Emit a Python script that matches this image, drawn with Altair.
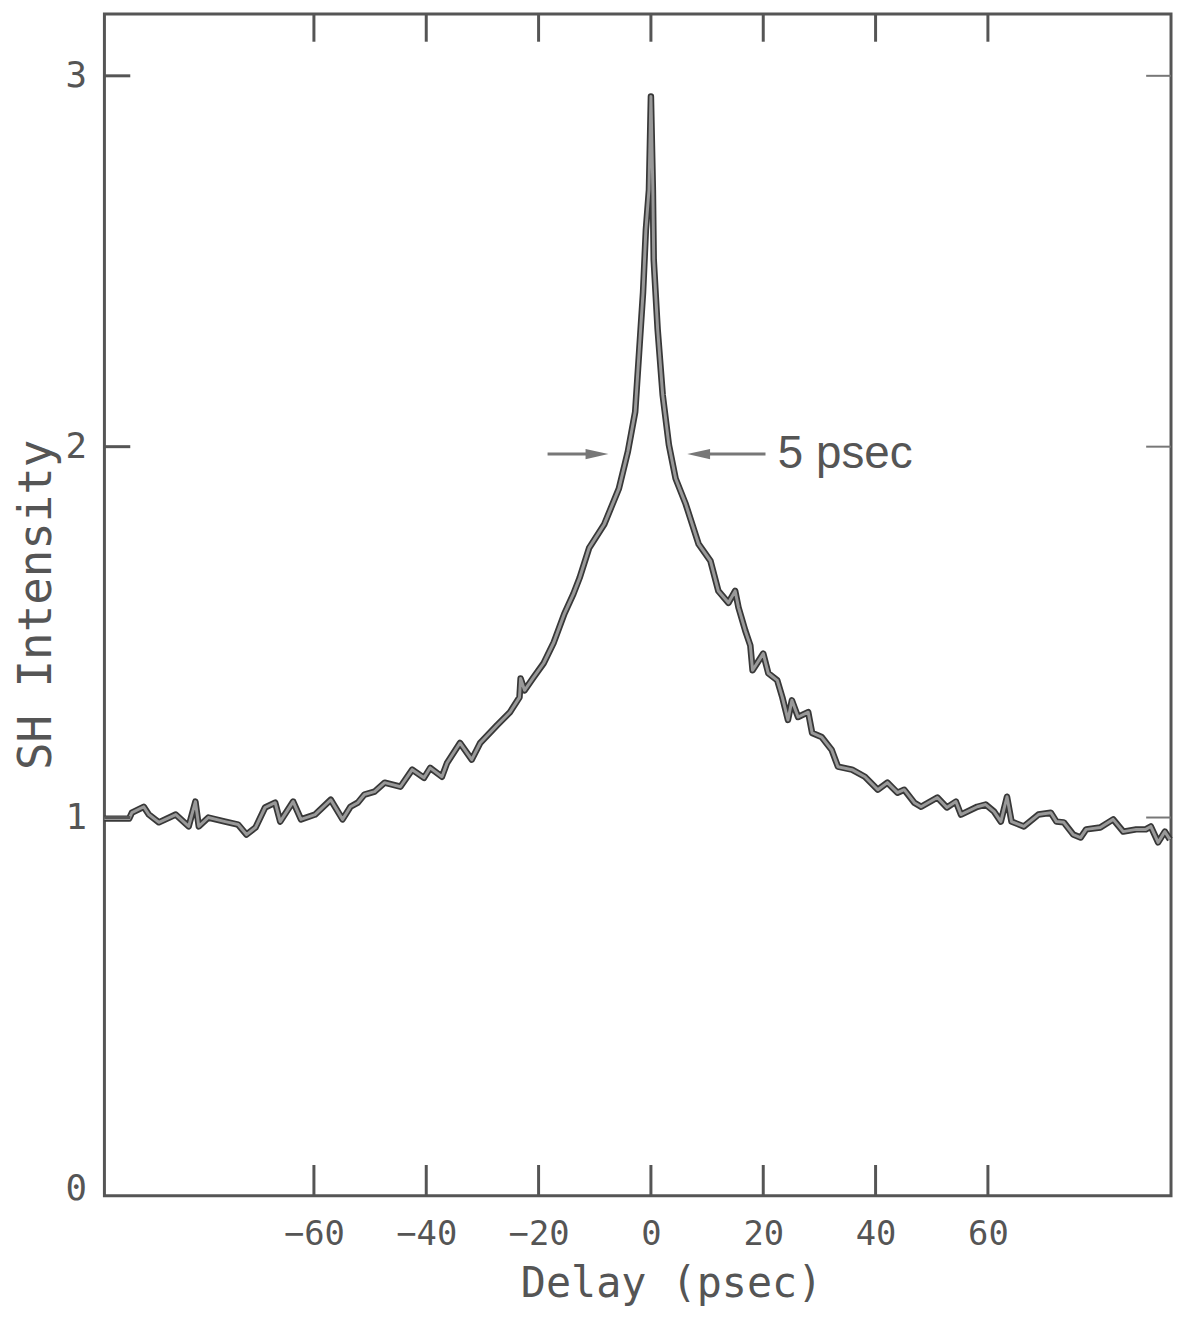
import altair as alt
import pandas as pd

# ---- data ----
delay = [-97.3, -92.9, -92.4, -90.3, -89.4, -87.6, -84.6, -82.3, -81.1, -80.5, -78.8, -75.8,
         -73.5, -72.0, -70.4, -68.7, -66.9, -66.0, -63.7, -62.3, -59.8, -57.0, -54.9, -53.5,
         -52.2, -51.0, -49.2, -47.4, -44.6, -42.5, -40.4, -39.3, -37.2, -36.3, -34.0, -31.9,
         -30.4, -27.4, -25.1, -23.4, -23.2, -22.5, -20.9, -19.1, -17.3, -15.4, -13.8, -12.7,
         -11.0, -8.3, -5.7, -4.1, -2.8, -2.1, -1.4, -0.9, -0.35, 0.0,
         0.35, 0.5, 1.2, 2.1, 3.2, 4.4, 6.2, 8.5, 10.6, 12.0, 13.8, 15.0, 15.6, 16.8, 17.7,
         18.1, 20.0, 20.9, 22.5, 23.4, 24.4, 25.1, 26.2, 28.0, 28.7, 30.4, 32.2, 33.3, 35.8,
         38.1, 40.4, 42.1, 43.9, 45.1, 46.9, 48.1, 51.0, 52.7, 54.3, 55.2, 58.1, 59.6, 61.1,
         62.3, 63.4, 64.2, 66.4, 69.0, 71.2, 72.2, 73.5, 75.2, 76.5, 77.5, 80.0, 82.3, 84.1,
         86.4, 88.1, 89.0, 90.3, 91.5, 92.4]
intensity = [0.997, 0.997, 1.013, 1.029, 1.008, 0.987, 1.008, 0.976, 1.043, 0.976, 1.000, 0.989,
             0.981, 0.954, 0.973, 1.027, 1.040, 0.989, 1.043, 0.995, 1.008, 1.048, 0.995, 1.029,
             1.040, 1.062, 1.070, 1.094, 1.083, 1.129, 1.107, 1.134, 1.110, 1.147, 1.201, 1.156,
             1.201, 1.249, 1.284, 1.324, 1.375, 1.343, 1.378, 1.416, 1.472, 1.550, 1.603, 1.646,
             1.727, 1.791, 1.887, 1.987, 2.094, 2.255, 2.416, 2.584, 2.692, 2.944,
             2.692, 2.504, 2.316, 2.139, 2.005, 1.914, 1.845, 1.737, 1.692, 1.611, 1.579, 1.611,
             1.566, 1.504, 1.464, 1.397, 1.442, 1.389, 1.370, 1.324, 1.263, 1.316, 1.271, 1.284,
             1.228, 1.217, 1.182, 1.137, 1.129, 1.110, 1.075, 1.094, 1.067, 1.075, 1.040, 1.029,
             1.054, 1.027, 1.043, 1.008, 1.029, 1.035, 1.016, 0.989, 1.056, 0.989, 0.976, 1.008,
             1.013, 0.989, 0.987, 0.954, 0.946, 0.968, 0.973, 0.995, 0.962, 0.968, 0.968, 0.976,
             0.933, 0.962, 0.941]

x_tick_values = [-60, -40, -20, 0, 20, 40, 60]
y_label_values = [0, 1, 2, 3]
y_tick_values = [1, 2, 3]

arrow_tail = [-18.4, 20.4]
arrow_head_center = [-9.6, 8.5]
arrow_y = [1.98, 1.98]
arrow_shape = ["M-1,-0.45 L1,0 L-1,0.45 Z", "M1,-0.45 L-1,0 L1,0.45 Z"]
note_text = ["5 psec"]
note_x = [22.6]
note_y = [1.98]

W, H = 1073, 1189
INK = "#555555"
MONO = "DejaVu Sans Mono"

df = pd.DataFrame({"delay": delay, "intensity": intensity})
xs = alt.Scale(domain=[-97.3, 92.6], nice=False, zero=False)
ys = alt.Scale(domain=[-0.02, 3.167], nice=False, zero=False)

x_axis = alt.Axis(values=x_tick_values, title="Delay (psec)", domain=False, ticks=False,
                  tickSize=0, grid=False, labelFont=MONO, labelFontSize=34, labelColor=INK,
                  labelPadding=22, labelBaseline="top", titleFont=MONO, titleFontSize=42,
                  titleFontWeight="normal", titleColor=INK, titleBaseline="alphabetic",
                  titleY=101, titleX=570)
y_axis = alt.Axis(values=y_label_values, title="SH Intensity", domain=False, ticks=False,
                  tickSize=0, grid=False, labelFont=MONO, labelFontSize=36, labelColor=INK,
                  labelPadding=18, labelBaseline="middle", titleFont=MONO, titleFontSize=46,
                  titleFontWeight="normal", titleColor=INK, titleBaseline="alphabetic",
                  titleX=-54, titleY=594, titleAngle=270)


def X(field):
    return alt.X(field, scale=xs, axis=x_axis)


def Y(field):
    return alt.Y(field, scale=ys, axis=y_axis)


outer = alt.Chart(df).mark_line(color="#383838", strokeWidth=6.5, strokeJoin="round").encode(
    x=X("delay:Q"), y=Y("intensity:Q"))
inner = alt.Chart(df).mark_line(color="#999999", strokeWidth=3, strokeJoin="round").encode(
    x=X("delay:Q"), y=Y("intensity:Q"))

tx = pd.DataFrame({"t": x_tick_values})
ty = pd.DataFrame({"t": y_tick_values})
bottom_ticks = alt.Chart(tx).mark_rule(color=INK, strokeWidth=3).encode(
    x=X("t:Q"), y=alt.value(H), y2=alt.value(H - 31))
top_ticks = alt.Chart(tx).mark_rule(color=INK, strokeWidth=3).encode(
    x=X("t:Q"), y=alt.value(0), y2=alt.value(28))
left_ticks = alt.Chart(ty).mark_rule(color=INK, strokeWidth=3).encode(
    y=Y("t:Q"), x=alt.value(0), x2=alt.value(26))
right_ticks = alt.Chart(ty).mark_rule(color="#777777", strokeWidth=2).encode(
    y=Y("t:Q"), x=alt.value(W), x2=alt.value(W - 25))

adf = pd.DataFrame({"tail": arrow_tail, "hc": arrow_head_center,
                    "y": arrow_y, "shape": arrow_shape})
arrow_lines = alt.Chart(adf).mark_rule(color="#777777", strokeWidth=3).encode(
    x=X("tail:Q"), x2="hc:Q", y=Y("y:Q"))
arrow_heads = alt.Chart(adf).mark_point(filled=True, color="#777777", opacity=1, size=529).encode(
    x=X("hc:Q"), y=Y("y:Q"),
    shape=alt.Shape("shape:N", scale=None, legend=None))

ndf = pd.DataFrame({"text": note_text, "x": note_x, "y": note_y})
note = alt.Chart(ndf).mark_text(align="left", baseline="middle", fontSize=46,
                                font="Liberation Sans", color=INK).encode(
    x=X("x:Q"), y=Y("y:Q"), text="text:N")

chart = alt.layer(outer, inner, bottom_ticks, top_ticks, left_ticks, right_ticks,
                  arrow_lines, arrow_heads, note).properties(
    width=W, height=H,
    autosize=alt.AutoSizeParams(type="none"),
    padding={"left": 97, "top": 2, "right": 2, "bottom": 115},
    background="white",
).configure_view(stroke=INK, strokeWidth=3)

chart.save("out.html", embed_options={"renderer": "svg", "actions": False})
